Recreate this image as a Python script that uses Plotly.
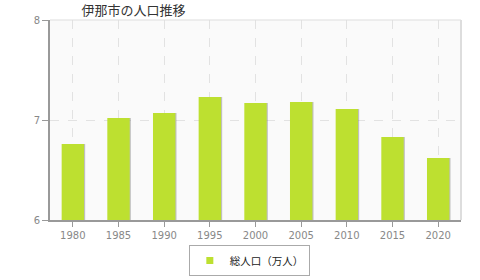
import plotly.graph_objects as go

years = ["1980", "1985", "1990", "1995", "2000", "2005", "2010", "2015", "2020"]
population = [6.76, 7.02, 7.07, 7.23, 7.17, 7.18, 7.11, 6.83, 6.62]
series_name = "総人口（万人）"
title_text = "伊那市の人口推移"
y_ticks = [6, 7, 8]

bar_color = "#bde030"

fig = go.Figure()
# shadow bars
fig.add_trace(go.Bar(
    x=years, y=[p - 6 for p in population], base=6,
    marker=dict(color="rgba(120,120,120,0.45)", line=dict(width=0)),
    width=0.49, offset=-0.22, showlegend=False, hoverinfo="skip",
))
fig.add_trace(go.Bar(
    x=years, y=[p - 6 for p in population], base=6,
    marker=dict(color=bar_color, line=dict(width=0)),
    width=0.49, offset=-0.245, showlegend=False, name=series_name,
))
fig.add_trace(go.Scatter(
    x=[None], y=[None], mode="markers", name=series_name,
    marker=dict(symbol="square", size=7, color=bar_color),
))

fig.update_layout(
    width=480, height=280,
    margin=dict(l=50, r=19, t=20, b=60, autoexpand=False),
    paper_bgcolor="white",
    plot_bgcolor="#fafafa",
    barmode="overlay",
    font=dict(family="Noto Sans CJK JP, DejaVu Sans", size=11, color="#888"),
    title=dict(text=title_text, x=0.17, xanchor="left", y=0.962, yanchor="middle",
               font=dict(size=13, color="#333", family="Noto Sans CJK JP")),
    showlegend=True,
    legend=dict(orientation="h", x=0.485, xanchor="center", y=-0.125, yanchor="top",
                bgcolor="white", bordercolor="#aaa", borderwidth=1,
                font=dict(size=10.5, color="#222", family="Noto Sans CJK JP"),
                itemwidth=30),
    xaxis=dict(
        type="category", range=[-0.5, 8.5],
        showgrid=True, gridcolor="#e2e2e2", griddash="dash", gridwidth=1,
        showline=True, linecolor="#999", linewidth=2, mirror=False,
        ticks="outside", ticklen=5, tickcolor="#999",
        tickfont=dict(family="DejaVu Sans", size=10, color="#888"),
        automargin=False,
    ),
    yaxis=dict(
        range=[6, 8], tickvals=y_ticks,
        showgrid=True, gridcolor="#e2e2e2", griddash="dash", gridwidth=1,
        showline=True, linecolor="#999", linewidth=2,
        ticks="outside", ticklen=6, tickcolor="#999",
        tickfont=dict(family="DejaVu Sans", size=10, color="#888"),
        zeroline=False, automargin=False,
    ),
    shapes=[
        dict(type="line", xref="paper", yref="paper", x0=0, x1=1, y0=1, y1=1,
             line=dict(color="#ddd", width=1)),
        dict(type="line", xref="paper", yref="paper", x0=1, x1=1, y0=0, y1=1,
             line=dict(color="#ddd", width=2)),
    ],
)

fig.write_html("out.html")
